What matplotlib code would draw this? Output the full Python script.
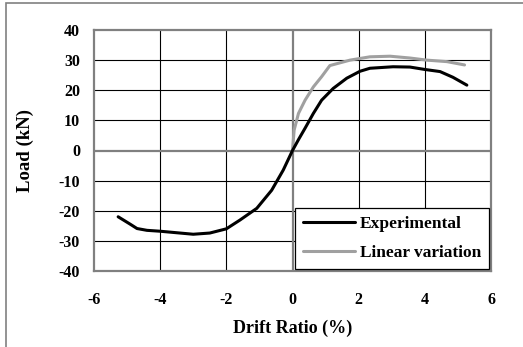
import matplotlib
matplotlib.use('Agg')
import matplotlib.pyplot as plt
from matplotlib.patches import Rectangle

# drift ratio (%) and load (kN)
exp_drift = [-5.27, -4.9, -4.7, -4.4, -4.0, -3.5, -3.0, -2.5, -2.0, -1.59, -1.08,
             -0.63, -0.28, 0.0, 0.18, 0.38, 0.63, 0.88, 1.23, 1.64, 2.04, 2.34,
             3.04, 3.55, 4.0, 4.46, 4.85, 5.27]
exp_load = [-22.0, -24.5, -25.9, -26.5, -26.8, -27.3, -27.8, -27.4, -26.0, -23.1, -19.2,
            -13.2, -6.5, 0.0, 3.6, 7.4, 12.3, 16.7, 20.6, 24.0, 26.3, 27.3,
            27.8, 27.7, 26.9, 26.2, 24.3, 21.7]

lin_drift = [0.0, 0.05, 0.18, 0.38, 0.63, 0.88, 1.13, 1.74, 2.34, 2.95, 3.55,
             4.06, 4.67, 5.2]
lin_load = [0.0, 6.8, 12.3, 16.7, 21.1, 24.5, 28.2, 30.0, 31.1, 31.3, 30.7,
            30.0, 29.5, 28.4]

x_ticks = [-6, -4, -2, 0, 2, 4, 6]
y_ticks = [-40, -30, -20, -10, 0, 10, 20, 30, 40]

plt.rcParams['font.family'] = ['Liberation Serif', 'DejaVu Serif']
plt.rcParams['font.weight'] = 'bold'
plt.rcParams['axes.unicode_minus'] = False

fig = plt.figure(figsize=(5.23, 3.47), dpi=100)
ax = fig.add_axes([94 / 523, 1 - 271 / 347, 397 / 523, 241 / 347])

# gray frame around the whole picture (only left and top show)
fig.patches.append(Rectangle((6 / 523, -0.2), 1.2, 1.2 - 3 / 347,
                             transform=fig.transFigure, fill=False,
                             edgecolor='#808080', linewidth=1.2))

# grid
for xv in x_ticks[1:-1]:
    if xv != 0:
        ax.axvline(xv, color='black', linewidth=0.8, zorder=1)
for yv in y_ticks[1:-1]:
    if yv != 0:
        ax.axhline(yv, color='black', linewidth=0.8, zorder=1)
ax.axvline(0, color='#808080', linewidth=1.6, zorder=1)
ax.axhline(0, color='#808080', linewidth=1.6, zorder=1)

ax.plot(exp_drift, exp_load, color='black', linewidth=2.2, label='Experimental',
        zorder=3, solid_capstyle='round')
ax.plot(lin_drift, lin_load, color='#a0a0a0', linewidth=2.2, label='Linear variation',
        zorder=2, solid_capstyle='round')

ax.set_xlim(-6, 6)
ax.set_ylim(-40, 40)
ax.set_xticks(x_ticks)
ax.set_yticks(y_ticks)
ax.tick_params(length=0, labelsize=11.5)
ax.tick_params(axis='x', pad=15)
ax.tick_params(axis='y', pad=10)
for sp in ax.spines.values():
    sp.set_color('#808080')
    sp.set_linewidth(1.6)

ax.set_xlabel('Drift Ratio (%)', fontsize=13, fontweight='bold', va='top')
ax.xaxis.set_label_coords(0.5, -0.2)
ax.set_ylabel('Load (kN)', fontsize=13.5, fontweight='bold')
ax.yaxis.set_label_coords(-0.15, 0.5)

leg = ax.legend(loc='lower right', bbox_to_anchor=(1.0, 0.0), borderaxespad=0.1,
                fontsize=12.5, handlelength=3.0, handletextpad=0.3,
                labelspacing=0.75, fancybox=False, framealpha=1.0,
                edgecolor='black', borderpad=0.45)
leg.get_frame().set_linewidth(0.9)
for t in leg.get_texts():
    t.set_fontweight('bold')

fig.savefig('out.png', dpi=100)
